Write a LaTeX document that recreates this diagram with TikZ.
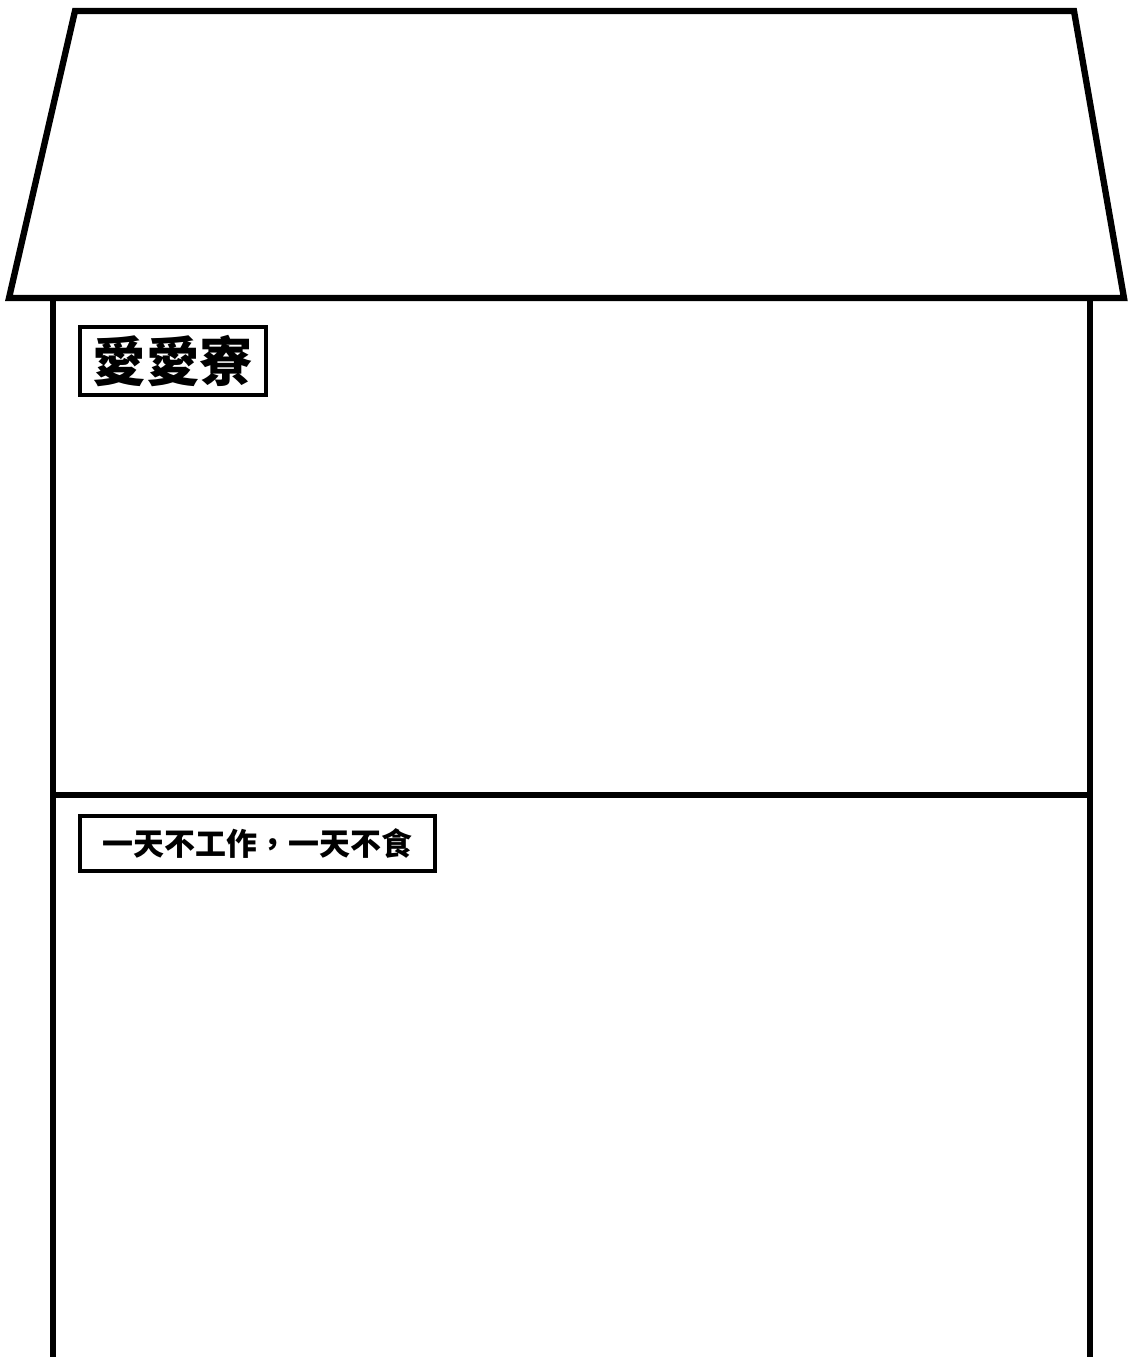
\documentclass[tikz,border=0pt]{standalone}
\usepackage{fontspec}
\usepackage{tikz}
\newfontfamily\cjk{Noto Sans CJK TC}

\begin{document}
\begin{tikzpicture}[x=0.025cm,y=-0.025cm,
   wall/.style={draw,line width=4.5pt,line join=miter},
   sign/.style={rectangle,draw,line width=2.6pt,anchor=north west,
    inner sep=+0.05cm,font=\cjk}
    ]
  \useasboundingbox (0,0) rectangle (1129,1357);

  % -- roof
  \draw[wall] (75,11) -- (1074,11) -- (1124,298) -- (9,298) -- cycle;

  % -- walls and floor
  \draw[wall] (53,298) -- (53,1360);
  \draw[wall] (1090,298) -- (1090,1360);
  \draw[wall] (53,795) -- (1090,795);

  % -- signs
  \node[sign,minimum width=4.65cm,minimum height=1.7cm,
    font=\cjk\bfseries\fontsize{38}{40}\selectfont] at (78,325) (name) {愛愛寮};
  \node[sign,minimum width=8.875cm,minimum height=1.375cm,
    font=\cjk\bfseries\fontsize{22}{24}\selectfont] at (78,814) (motto) {一天不工作，一天不食};

\end{tikzpicture}
\end{document}
